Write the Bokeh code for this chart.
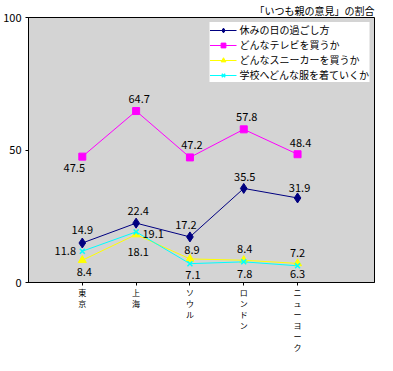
from bokeh.plotting import figure
from bokeh.models import Range1d, FixedTicker, ColumnDataSource
from bokeh.core.properties import value
from bokeh.embed import file_html
from bokeh.resources import INLINE

# ---- data ----
cities = ["東京", "上海", "ソウル", "ロンドン", "ニューヨーク"]
holiday = [14.9, 22.4, 17.2, 35.5, 31.9]
tv = [47.5, 64.7, 47.2, 57.8, 48.4]
sneakers = [8.4, 18.1, 8.9, 8.4, 7.2]
clothes = [11.8, 19.1, 7.1, 7.8, 6.3]
series_names = ["休みの日の過ごし方", "どんなテレビを買うか",
                "どんなスニーカーを買うか", "学校へどんな服を着ていくか"]
title_text = "「いつも親の意見」の割合"
y_ticks = [0, 50, 100]

# ---- styles ----
colors = ["#000080", "#ff00ff", "#ffff00", "#00ffff"]
markers = ["diamond", "square", "triangle", "x"]
sizes = [10, 7, 8, 7]
# data-label pixel offsets (dx, dy; dy positive = down)
offsets = [
    [(0, -13), (2, -12), (-4, -12), (1, -11), (2, -10)],
    [(-8, 11), (3, -12), (2, -12), (3, -12), (3, -11)],
    [(2, 12), (2, 17), (2, -9), (1, -11), (0, -10)],
    [(-17, 0), (17, 2), (3, 11), (1, 12), (0, 8)],
]
JP = "Noto Sans CJK JP"

xs = list(range(1, len(cities) + 1))
series = [holiday, tv, sneakers, clothes]

p = figure(width=377, height=355, x_range=Range1d(0, 6.43), y_range=Range1d(0, 100),
           output_backend="svg", toolbar_location=None, title=title_text,
           min_border_left=0, min_border_right=3, min_border_top=0, min_border_bottom=0)

p.title.align = "right"
p.title.text_font = JP
p.title.text_font_size = "10px"
p.title.text_font_style = "normal"
p.title.text_color = "black"
p.title.standoff = 0

p.background_fill_color = "#d4d4d4"
p.border_fill_color = "white"
p.outline_line_color = "black"
p.outline_line_width = 1
p.xgrid.visible = False
p.ygrid.visible = False

p.xaxis.ticker = FixedTicker(ticks=xs)
p.xaxis.major_label_overrides = {x: "\n".join(list(c)) for x, c in zip(xs, cities)}
p.xaxis.major_label_text_font = JP
p.xaxis.major_label_text_font_size = "8px"
p.xaxis.major_label_text_line_height = 1.0
p.xaxis.major_label_text_color = "black"
p.xaxis.major_tick_out = 3
p.xaxis.major_tick_in = 0
p.xaxis.minor_tick_out = 0
p.xaxis.major_label_standoff = 1
p.xaxis.axis_line_color = "black"
p.xaxis.major_tick_line_color = "black"

p.yaxis.ticker = FixedTicker(ticks=y_ticks)
p.yaxis.major_label_text_font = JP
p.yaxis.major_label_text_font_size = "11px"
p.yaxis.major_label_text_color = "black"
p.yaxis.major_tick_out = 3
p.yaxis.major_tick_in = 0
p.yaxis.minor_tick_out = 0
p.yaxis.major_label_standoff = 4
p.yaxis.axis_line_color = "black"
p.yaxis.major_tick_line_color = "black"

for vals, name, col, mk, sz in zip(series, series_names, colors, markers, sizes):
    p.line(xs, vals, line_color=col, line_width=1, legend_label=name)
    p.scatter(xs, vals, marker=mk, size=sz, fill_color=col, line_color=col,
              line_width=1.5 if mk == "x" else 1, legend_label=name)

for vals, offs in zip(series, offsets):
    src = ColumnDataSource(dict(
        x=xs, y=vals, t=[f"{v:.1f}" for v in vals],
        dx=[o[0] for o in offs], dy=[o[1] for o in offs]))
    p.text(x="x", y="y", text="t", x_offset="dx", y_offset="dy", source=src,
           text_align="center", text_baseline="middle",
           text_font=value(JP), text_font_size="11px", text_color="black")

p.legend.location = "top_right"
p.legend.label_text_font = JP
p.legend.label_text_font_size = "10px"
p.legend.label_text_color = "black"
p.legend.border_line_color = None
p.legend.background_fill_color = "white"
p.legend.background_fill_alpha = 1
p.legend.padding = 3
p.legend.spacing = 0
p.legend.margin = 5
p.legend.glyph_width = 27
p.legend.glyph_height = 12
p.legend.label_height = 12
p.legend.label_standoff = 3

open("out.html", "w").write(file_html(p, INLINE))
